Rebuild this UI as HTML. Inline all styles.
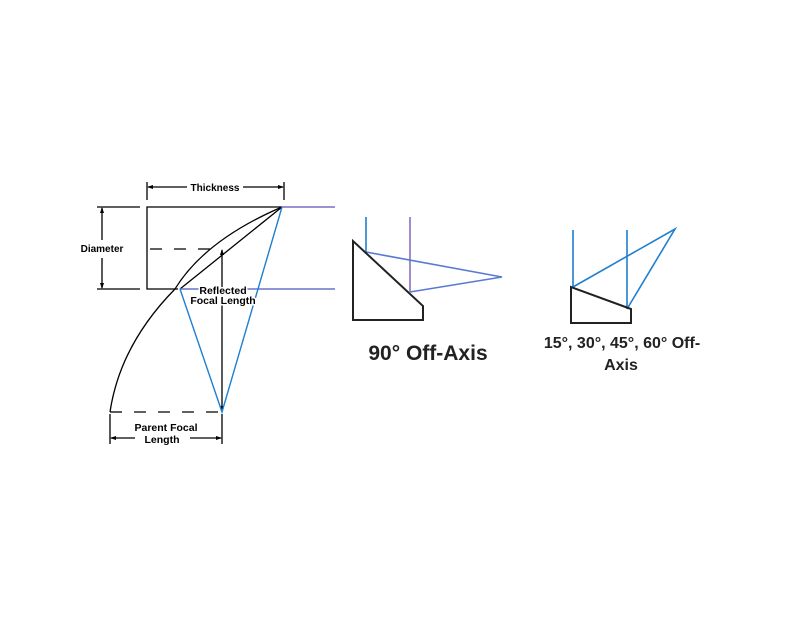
<!DOCTYPE html>
<html><head><style>
body{margin:0;background:#fff;width:800px;height:623px;overflow:hidden}
text{font-family:"Liberation Sans",Arial,sans-serif;font-weight:bold}
</style></head><body>
<svg width="800" height="623" viewBox="0 0 800 623">
<defs>
<marker id="a" markerWidth="6" markerHeight="6" refX="5" refY="3" orient="auto-start-reverse" markerUnits="userSpaceOnUse"><path d="M0,1 L6,3 L0,5z" fill="#000"/></marker>
</defs>
<g stroke="#000" stroke-width="1.3" fill="none">
<line x1="147" y1="182" x2="147" y2="200"/>
<line x1="284" y1="182" x2="284" y2="200"/>
<line x1="148" y1="187" x2="187" y2="187" marker-start="url(#a)"/>
<line x1="243" y1="187" x2="283" y2="187" marker-end="url(#a)"/>
<polyline points="282,207 147,207 147,289 178,289"/>
<line x1="97" y1="207" x2="140" y2="207"/>
<line x1="97" y1="289" x2="140" y2="289"/>
<line x1="102" y1="208" x2="102" y2="240" marker-start="url(#a)"/>
<line x1="102" y1="258" x2="102" y2="288" marker-end="url(#a)"/>
<line x1="150" y1="249" x2="220" y2="249" stroke-dasharray="12,12"/>
<path d="M282,207 Q205,240 175,289 Q120,345 110,412"/>
<line x1="282" y1="207" x2="180" y2="289"/>
<line x1="222" y1="250" x2="222" y2="411" marker-start="url(#a)" marker-end="url(#a)"/>
<line x1="110" y1="412" x2="228" y2="412" stroke-dasharray="12,12"/>
<line x1="110" y1="414" x2="110" y2="444"/>
<line x1="222" y1="414" x2="222" y2="444"/>
<line x1="111" y1="438" x2="135" y2="438" marker-start="url(#a)"/>
<line x1="190" y1="438" x2="221" y2="438" marker-end="url(#a)"/>
</g>
<g stroke="#1f7fd0" stroke-width="1.4" fill="none">
<line x1="282" y1="207" x2="335" y2="207" stroke="#7d6fc0"/>
<line x1="180" y1="289" x2="335" y2="289" stroke="#6a74c8"/>
<polyline points="282,207 222,412 180,289"/>
</g>
<text x="215" y="191" font-size="10" text-anchor="middle">Thickness</text>
<text x="102" y="252" font-size="10" text-anchor="middle" fill="#000" stroke="#fff" stroke-width="4" paint-order="stroke">Diameter</text>
<text x="223" y="294" font-size="10.5" text-anchor="middle" stroke="#fff" stroke-width="3" paint-order="stroke">Reflected</text>
<text x="223" y="304" font-size="10.5" text-anchor="middle" stroke="#fff" stroke-width="3" paint-order="stroke">Focal Length</text>
<text x="166" y="431" font-size="10.5" text-anchor="middle">Parent Focal</text>
<text x="162" y="443" font-size="10.5" text-anchor="middle">Length</text>
<g stroke="#1f7fd0" stroke-width="1.6" fill="none">
<line x1="366" y1="217" x2="366" y2="252"/>
<line x1="410" y1="217" x2="410" y2="292" stroke="#8a6fc0"/>
<polyline points="366,252 502,277 410,292" stroke="#5a7ad0"/>
<line x1="573" y1="230" x2="573" y2="287"/>
<line x1="627" y1="230" x2="627" y2="309"/>
<polyline points="573,287 675,229 627,309"/>
</g>
<g stroke="#222" stroke-width="2" fill="none">
<polygon points="353,241 353,320 423,320 423,306"/>
<polygon points="571,287 571,323 631,323 631,309"/>
</g>
<text x="428" y="360" font-size="21" text-anchor="middle" fill="#222">90° Off-Axis</text>
<text x="622" y="348" font-size="16" text-anchor="middle" fill="#222">15°, 30°, 45°, 60° Off-</text>
<text x="621" y="370" font-size="16" text-anchor="middle" fill="#222">Axis</text>
</svg>
</body></html>
